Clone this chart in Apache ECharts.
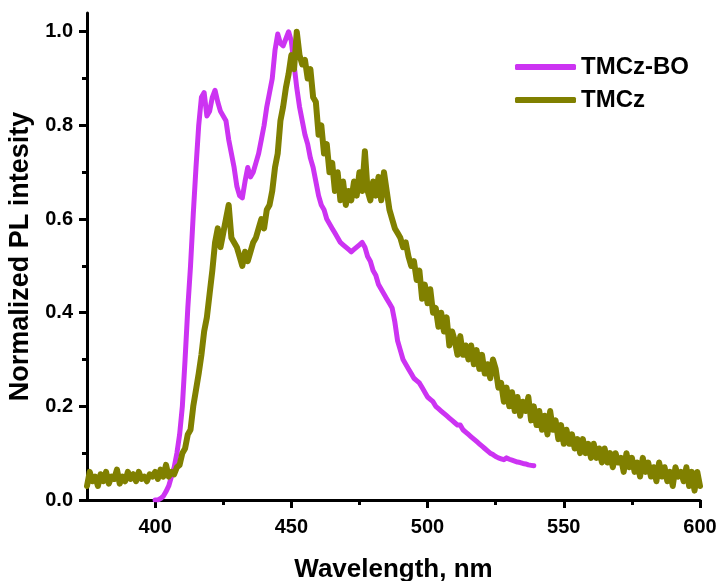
<!DOCTYPE html>
<html>
<head>
<meta charset="utf-8">
<script src="https://cdn.jsdelivr.net/npm/echarts@6/dist/echarts.min.js"></script>
<style>
html,body{margin:0;padding:0;background:#fff;}
#chart{width:721px;height:581px;}
</style>
</head>
<body>
<div id="chart"></div>
<script>
// Wavelength grids (nm, 1 nm steps)
const tmczBoStart = 400;
const tmczStart = 375;

// TMCz-BO normalized PL intensity, 400..539 nm
const tmczBoValues = [
  0, 0, 0.003, 0.008, 0.018, 0.03, 0.05, 0.07, 0.1, 0.14,
  0.2, 0.3, 0.41, 0.5, 0.61, 0.71, 0.8, 0.86, 0.87, 0.82,
  0.83, 0.86, 0.875, 0.85, 0.83, 0.82, 0.81, 0.77, 0.74, 0.71,
  0.67, 0.65, 0.645, 0.68, 0.71, 0.69, 0.7, 0.72, 0.74, 0.77,
  0.8, 0.84, 0.87, 0.9, 0.96, 0.995, 0.975, 0.97, 0.985, 1.0,
  0.98, 0.93, 0.88, 0.84, 0.81, 0.78, 0.76, 0.73, 0.71, 0.68,
  0.65, 0.63, 0.62, 0.6, 0.59, 0.58, 0.57, 0.56, 0.55, 0.545,
  0.54, 0.535, 0.53, 0.535, 0.54, 0.545, 0.55, 0.54, 0.52, 0.51,
  0.49, 0.48, 0.46, 0.45, 0.44, 0.43, 0.42, 0.41, 0.38, 0.34,
  0.32, 0.3, 0.29, 0.28, 0.27, 0.26, 0.255, 0.25, 0.24, 0.23,
  0.22, 0.215, 0.21, 0.2, 0.195, 0.19, 0.185, 0.18, 0.175, 0.17,
  0.165, 0.16, 0.16, 0.15, 0.145, 0.14, 0.135, 0.13, 0.125, 0.12,
  0.115, 0.11, 0.105, 0.1, 0.097, 0.093, 0.09, 0.088, 0.086, 0.09,
  0.087, 0.085, 0.083, 0.081, 0.08, 0.078, 0.077, 0.075, 0.074, 0.073
];

// TMCz normalized PL intensity, 375..600 nm
const tmczValues = [
  0.03, 0.06, 0.04, 0.05, 0.03, 0.055, 0.04, 0.06, 0.035, 0.05,
  0.045, 0.065, 0.035, 0.05, 0.04, 0.06, 0.045, 0.055, 0.04, 0.06,
  0.045, 0.05, 0.04, 0.055, 0.05, 0.06, 0.045, 0.065, 0.05, 0.075,
  0.05, 0.06, 0.055, 0.07, 0.075, 0.1, 0.11, 0.14, 0.15, 0.2,
  0.235, 0.27, 0.31, 0.36, 0.39, 0.44, 0.49, 0.55, 0.58, 0.54,
  0.57, 0.6, 0.63, 0.56, 0.55, 0.54, 0.52, 0.5, 0.53, 0.51,
  0.53, 0.55, 0.56, 0.58, 0.6, 0.58, 0.62, 0.63, 0.66, 0.71,
  0.74, 0.81, 0.84, 0.88, 0.91, 0.95, 0.92, 1.0, 0.95, 0.93,
  0.94, 0.9, 0.92, 0.86, 0.85, 0.78, 0.8, 0.74, 0.76, 0.7,
  0.72, 0.66, 0.7, 0.64, 0.68, 0.63, 0.66, 0.64, 0.68, 0.65,
  0.7, 0.66, 0.745, 0.66, 0.64, 0.68, 0.65, 0.69, 0.64, 0.7,
  0.66, 0.62, 0.6, 0.58, 0.57, 0.56, 0.54, 0.55, 0.52, 0.5,
  0.51, 0.47, 0.49, 0.43, 0.46, 0.42, 0.45, 0.4, 0.41, 0.37,
  0.4, 0.36, 0.39, 0.33, 0.36, 0.34, 0.31, 0.35, 0.31, 0.33,
  0.3, 0.33, 0.29, 0.32, 0.28, 0.31, 0.27, 0.29, 0.26, 0.3,
  0.28, 0.24, 0.25, 0.21, 0.24, 0.2, 0.23, 0.19, 0.22, 0.18,
  0.21, 0.19, 0.22, 0.17, 0.2, 0.16, 0.19, 0.15, 0.18, 0.14,
  0.19, 0.15, 0.17, 0.13, 0.16, 0.12, 0.15, 0.12, 0.14, 0.11,
  0.13, 0.1, 0.13, 0.1, 0.12, 0.09, 0.12, 0.09, 0.11, 0.08,
  0.11, 0.08, 0.1, 0.07, 0.1, 0.08, 0.09, 0.06, 0.1, 0.07,
  0.09, 0.06, 0.08, 0.05, 0.09, 0.06, 0.08, 0.05, 0.07, 0.04,
  0.08, 0.05, 0.07, 0.04, 0.06, 0.03, 0.07, 0.05, 0.06, 0.04,
  0.07, 0.03, 0.06, 0.02, 0.06, 0.03
];

const seriesNames = ['TMCz-BO', 'TMCz'];
const xMajorTicks = [400, 450, 500, 550, 600];
const xMinorTicks = [425, 475, 525, 575];
const yMajorTicks = [0, 0.2, 0.4, 0.6, 0.8, 1.0];
const yMinorTicks = [0.1, 0.3, 0.5, 0.7, 0.9];

const toPairs = (start, vals) => vals.map((v, i) => [start + i, v]);

const FONT = '"Liberation Sans", Arial, sans-serif';
const axisColor = '#000';

const chart = echarts.init(document.getElementById('chart'), null, {renderer: 'canvas'});

const baseX = {
  type: 'value', min: 375, max: 600,
  splitLine: {show: false}
};
const baseY = {
  type: 'value', min: 0, max: 1.04,
  splitLine: {show: false}
};

chart.setOption({
  animation: false,
  backgroundColor: '#fff',
  grid: {left: 87, right: 21, top: 13, bottom: 81, containLabel: false, outerBoundsMode: 'none'},
  legend: {
    orient: 'vertical',
    left: 510, top: 50,
    itemWidth: 61, itemHeight: 6,
    itemGap: 9,
    icon: 'roundRect',
    data: seriesNames,
    textStyle: {fontFamily: FONT, fontWeight: 'bold', fontSize: 24, color: '#000', lineHeight: 24}
  },
  xAxis: [
    Object.assign({}, baseX, {
      name: 'Wavelength, nm',
      nameLocation: 'middle',
      nameGap: 57,
      nameTextStyle: {fontFamily: FONT, fontWeight: 'bold', fontSize: 26, color: '#000'},
      axisLine: {show: true, onZero: false, lineStyle: {color: axisColor, width: 3}},
      axisTick: {show: true, inside: false, length: 8, customValues: xMajorTicks, lineStyle: {color: axisColor, width: 3}},
      axisLabel: {customValues: xMajorTicks, margin: 17, fontFamily: FONT, fontWeight: 'bold', fontSize: 20, color: '#000'}
    }),
    Object.assign({}, baseX, {
      position: 'bottom',
      axisLine: {show: false, onZero: false},
      axisTick: {show: true, inside: false, length: 5, customValues: xMinorTicks, lineStyle: {color: axisColor, width: 3}},
      axisLabel: {show: false}
    })
  ],
  yAxis: [
    Object.assign({}, baseY, {
      name: 'Normalized PL intesity',
      nameLocation: 'middle',
      nameGap: 43,
      nameTextStyle: {fontFamily: FONT, fontWeight: 'bold', fontSize: 27, color: '#000'},
      axisLine: {show: true, onZero: false, lineStyle: {color: axisColor, width: 3}},
      axisTick: {show: true, inside: false, length: 8, customValues: yMajorTicks, lineStyle: {color: axisColor, width: 3}},
      axisLabel: {customValues: yMajorTicks, margin: 14, fontFamily: FONT, fontWeight: 'bold', fontSize: 20, color: '#000',
        formatter: v => v.toFixed(1)}
    }),
    Object.assign({}, baseY, {
      position: 'left',
      axisLine: {show: false, onZero: false},
      axisTick: {show: true, inside: false, length: 5, customValues: yMinorTicks, lineStyle: {color: axisColor, width: 3}},
      axisLabel: {show: false}
    })
  ],
  series: [
    {
      name: seriesNames[0], type: 'line', xAxisIndex: 0, yAxisIndex: 0,
      data: toPairs(tmczBoStart, tmczBoValues),
      showSymbol: false, symbol: 'none',
      color: '#CC33F2',
      lineStyle: {width: 5, color: '#CC33F2', join: 'round', cap: 'round'}
    },
    {
      name: seriesNames[1], type: 'line', xAxisIndex: 0, yAxisIndex: 0,
      data: toPairs(tmczStart, tmczValues),
      showSymbol: false, symbol: 'none',
      color: '#808000',
      lineStyle: {width: 6, color: '#808000', join: 'round', cap: 'round'}
    }
  ]
});
</script>
</body>
</html>
